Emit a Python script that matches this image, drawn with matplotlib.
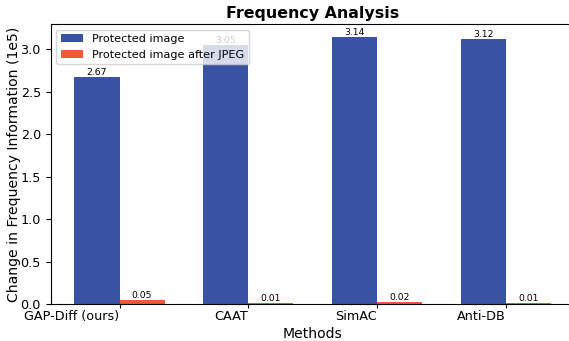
import numpy as np
import matplotlib
matplotlib.use('Agg')
import matplotlib.pyplot as plt

# data
methods = ['GAP-Diff (ours)', 'CAAT', 'SimAC', 'Anti-DB']
protected = [2.67, 3.05, 3.14, 3.12]
after_jpeg = [0.05, 0.01, 0.02, 0.01]

x = np.arange(len(methods))
width = 0.35

fig = plt.figure(figsize=(5.69, 3.41), dpi=100)
# axes run a little past the right edge, like the cropped original
ax = fig.add_axes([0.089, 0.1085, 0.921, 0.821])

bars1 = ax.bar(x, protected, width, color='#3953a4', label='Protected image')
bars2 = ax.bar(x + width, after_jpeg, width, color='#ec5a36', label='Protected image after JPEG')

# numbers on top of the bars
for bar in list(bars1) + list(bars2):
    h = bar.get_height()
    ax.text(bar.get_x() + bar.get_width() / 2., h, f'{h:.2f}',
            ha='center', va='bottom', fontsize=6.7)

ax.set_xticks(x + width / 2)
ax.set_xticklabels(methods, ha='right', fontsize=9.2)
ax.tick_params(axis='x', length=3, pad=1.5)
ax.tick_params(axis='y', labelsize=9.2)
ax.set_xlabel('Methods', fontsize=10.1, labelpad=3)
ax.set_ylabel('Change in Frequency Information (1e5)', fontsize=10.1, labelpad=0)
ax.set_title('Frequency Analysis', fontsize=11.4, fontweight='bold', pad=4)
ax.legend(loc='upper left', fontsize=8.1)

fig.savefig('out.png', dpi=100)
